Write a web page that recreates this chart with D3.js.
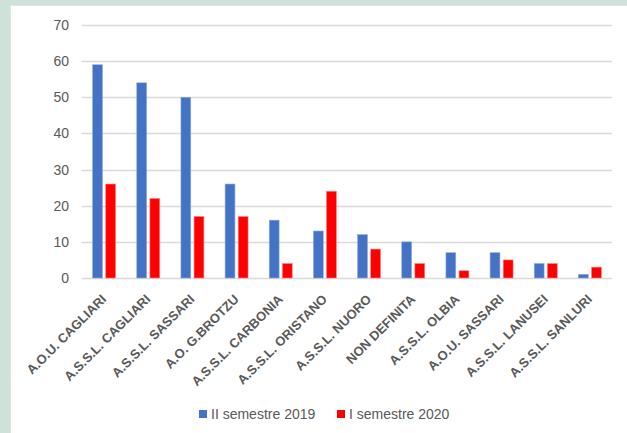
<!DOCTYPE html>
<html>
<head>
<meta charset="utf-8">
<script src="https://cdn.jsdelivr.net/npm/d3@7"></script>
<style>
  html, body { margin: 0; padding: 0; background: #cfe2d9; }
  svg { display: block; }
  text { font-family: "Liberation Sans", Arial, sans-serif; fill: #595959; }
</style>
</head>
<body>
<div id="chart"></div>
<script>
// data
var categories = ["A.O.U. CAGLIARI", "A.S.S.L. CAGLIARI", "A.S.S.L. SASSARI", "A.O. G.BROTZU",
    "A.S.S.L. CARBONIA", "A.S.S.L. ORISTANO", "A.S.S.L. NUORO", "NON DEFINITA",
    "A.S.S.L. OLBIA", "A.O.U. SASSARI", "A.S.S.L. LANUSEI", "A.S.S.L. SANLURI"];
var seriesNames = ["II semestre 2019", "I semestre 2020"];
var sem2019 = [59, 54, 50, 26, 16, 13, 12, 10, 7, 7, 4, 1];
var sem2020 = [26, 22, 17, 17, 4, 24, 8, 4, 2, 5, 4, 3];
var yTicks = [0, 10, 20, 30, 40, 50, 60, 70];

var colors = ["#4472c4", "#ff0000"];
var edges = ["#8eaadb", "#ff8080"];

var svgWidth = 627, svgHeight = 433;
var margin = { top: 25, bottom: 155, right: 15, left: 82 };
var width = 612 - margin.left;
var height = 278 - margin.top;

var svg = d3.select("#chart").append("svg")
    .attr("width", svgWidth)
    .attr("height", svgHeight);

// white panel
svg.append("rect")
    .attr("x", 10.5).attr("y", 5.5)
    .attr("width", svgWidth).attr("height", svgHeight)
    .attr("fill", "#ffffff")
    .attr("stroke", "#e3e3e3");

var chartGroup = svg.append("g")
    .attr("transform", `translate(${margin.left}, ${margin.top})`);

var xScale = d3.scaleBand()
    .domain(categories)
    .range([0, width])
    .paddingInner(0.48)
    .paddingOuter(0.24);

var xInner = d3.scaleBand()
    .domain(seriesNames)
    .range([0, xScale.bandwidth()])
    .paddingInner(0.25);

var yScale = d3.scaleLinear()
    .domain([0, 70])
    .range([height, 0]);

// gridlines
chartGroup.selectAll(".grid")
    .data(yTicks)
    .enter()
    .append("line")
    .attr("x1", 0).attr("x2", width)
    .attr("y1", d => Math.round(yScale(d)) + 0.5)
    .attr("y2", d => Math.round(yScale(d)) + 0.5)
    .attr("stroke", "#d9d9d9")
    .attr("stroke-width", 1.3);

// y axis labels
var yAxis = d3.axisLeft(yScale).tickValues(yTicks).tickSize(0).tickPadding(13);
var yG = chartGroup.append("g").call(yAxis);
yG.select(".domain").remove();
yG.selectAll("text").attr("font-size", "14px").attr("fill", "#595959")
    .style("font-family", "Liberation Sans, Arial, sans-serif");

// bars
var rows = categories.map((c, i) => ({ cat: c, vals: [sem2019[i], sem2020[i]] }));

var groups = chartGroup.selectAll(".cat")
    .data(rows)
    .enter()
    .append("g")
    .attr("transform", d => `translate(${xScale(d.cat)}, 0)`);

groups.selectAll("rect")
    .data(d => d.vals.map((v, j) => ({ s: seriesNames[j], v: v, j: j })))
    .enter()
    .append("rect")
    .attr("x", d => xInner(d.s))
    .attr("y", d => yScale(d.v))
    .attr("width", xInner.bandwidth())
    .attr("height", d => height - yScale(d.v))
    .attr("fill", d => colors[d.j])
    .attr("stroke", d => edges[d.j])
    .attr("stroke-width", 0.6);

// x axis labels, rotated
var xAxis = d3.axisBottom(xScale).tickSize(0).tickPadding(0);
var xG = chartGroup.append("g")
    .attr("transform", `translate(0, ${height})`)
    .call(xAxis);
xG.select(".domain").remove();
xG.selectAll("text")
    .attr("y", 0).attr("dy", 0)
    .attr("text-anchor", "end")
    .attr("transform", "translate(3, 22) rotate(-45)")
    .attr("font-size", "13px")
    .attr("font-weight", "bold")
    .attr("fill", "#595959")
    .style("font-family", "Liberation Sans, Arial, sans-serif");

// legend
var legendX = [199, 337];
var legend = svg.selectAll(".legend")
    .data(seriesNames)
    .enter()
    .append("g")
    .attr("transform", (d, i) => `translate(${legendX[i]}, 410)`);

legend.append("rect")
    .attr("width", 8).attr("height", 8)
    .attr("fill", (d, i) => colors[i]);

legend.append("text")
    .attr("x", 12).attr("y", 8.5)
    .attr("font-size", "14px")
    .text(d => d);
</script>
</body>
</html>
